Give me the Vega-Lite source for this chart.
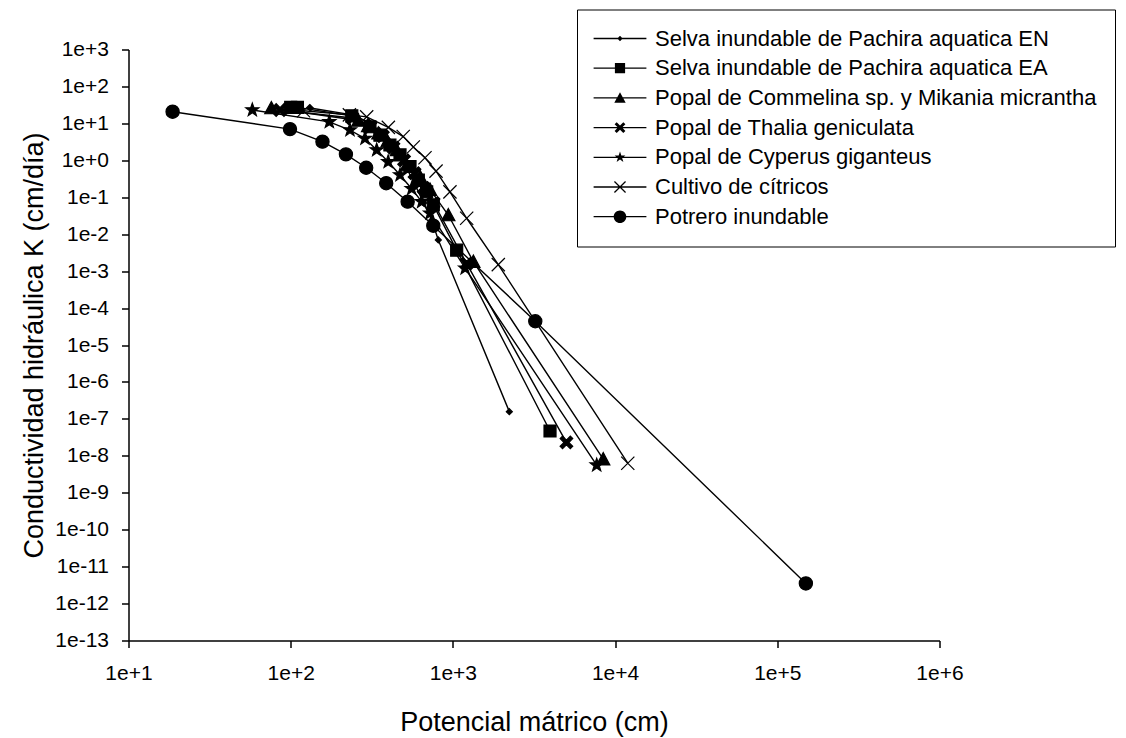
{
  "$schema": "https://vega.github.io/schema/vega-lite/v6.json",
  "width": 811,
  "height": 591,
  "autosize": {"type": "none"},
  "padding": {"left": 128.5, "top": 49.5, "right": 186.5, "bottom": 97.5},
  "background": "white",
  "config": {
    "view": {"stroke": null},
    "font": "Liberation Sans",
    "axis": {
      "grid": false,
      "domainColor": "black",
      "domainWidth": 1.5,
      "tickColor": "black",
      "tickWidth": 1.5,
      "tickSize": 7,
      "labelFont": "Liberation Sans",
      "labelFontSize": 21,
      "labelColor": "black",
      "titleFont": "Liberation Sans",
      "titleFontSize": 27,
      "titleFontWeight": "normal",
      "titleColor": "black",
      "labelOverlap": false,
      "labelFlush": false
    }
  },
  "data": {
    "values": [
      {"serie": "Selva inundable de Pachira aquatica EN", "h": 132, "K": 26},
      {"serie": "Selva inundable de Pachira aquatica EN", "h": 240, "K": 17},
      {"serie": "Selva inundable de Pachira aquatica EN", "h": 300, "K": 11},
      {"serie": "Selva inundable de Pachira aquatica EN", "h": 350, "K": 6.5},
      {"serie": "Selva inundable de Pachira aquatica EN", "h": 400, "K": 3.5},
      {"serie": "Selva inundable de Pachira aquatica EN", "h": 460, "K": 1.5},
      {"serie": "Selva inundable de Pachira aquatica EN", "h": 520, "K": 0.6},
      {"serie": "Selva inundable de Pachira aquatica EN", "h": 590, "K": 0.2},
      {"serie": "Selva inundable de Pachira aquatica EN", "h": 660, "K": 0.07},
      {"serie": "Selva inundable de Pachira aquatica EN", "h": 740, "K": 0.024},
      {"serie": "Selva inundable de Pachira aquatica EN", "h": 813, "K": 0.007},
      {"serie": "Selva inundable de Pachira aquatica EN", "h": 2228, "K": 1.57e-7},

      {"serie": "Selva inundable de Pachira aquatica EA", "h": 100, "K": 27},
      {"serie": "Selva inundable de Pachira aquatica EA", "h": 110, "K": 27},
      {"serie": "Selva inundable de Pachira aquatica EA", "h": 238, "K": 16},
      {"serie": "Selva inundable de Pachira aquatica EA", "h": 308, "K": 8.1},
      {"serie": "Selva inundable de Pachira aquatica EA", "h": 355, "K": 4.8},
      {"serie": "Selva inundable de Pachira aquatica EA", "h": 409, "K": 2.6},
      {"serie": "Selva inundable de Pachira aquatica EA", "h": 472, "K": 1.4},
      {"serie": "Selva inundable de Pachira aquatica EA", "h": 544, "K": 0.68},
      {"serie": "Selva inundable de Pachira aquatica EA", "h": 612, "K": 0.29},
      {"serie": "Selva inundable de Pachira aquatica EA", "h": 689, "K": 0.14},
      {"serie": "Selva inundable de Pachira aquatica EA", "h": 757, "K": 0.062},
      {"serie": "Selva inundable de Pachira aquatica EA", "h": 1055, "K": 0.0037},
      {"serie": "Selva inundable de Pachira aquatica EA", "h": 3970, "K": 4.7e-8},

      {"serie": "Popal de Commelina sp. y Mikania micrantha", "h": 76, "K": 26},
      {"serie": "Popal de Commelina sp. y Mikania micrantha", "h": 261, "K": 12},
      {"serie": "Popal de Commelina sp. y Mikania micrantha", "h": 300, "K": 8.5},
      {"serie": "Popal de Commelina sp. y Mikania micrantha", "h": 347, "K": 5.4},
      {"serie": "Popal de Commelina sp. y Mikania micrantha", "h": 395, "K": 3.3},
      {"serie": "Popal de Commelina sp. y Mikania micrantha", "h": 451, "K": 1.9},
      {"serie": "Popal de Commelina sp. y Mikania micrantha", "h": 519, "K": 0.74},
      {"serie": "Popal de Commelina sp. y Mikania micrantha", "h": 627, "K": 0.36},
      {"serie": "Popal de Commelina sp. y Mikania micrantha", "h": 723, "K": 0.16},
      {"serie": "Popal de Commelina sp. y Mikania micrantha", "h": 937, "K": 0.033},
      {"serie": "Popal de Commelina sp. y Mikania micrantha", "h": 1337, "K": 0.0018},
      {"serie": "Popal de Commelina sp. y Mikania micrantha", "h": 8450, "K": 8.1e-9},

      {"serie": "Popal de Thalia geniculata", "h": 86, "K": 23},
      {"serie": "Popal de Thalia geniculata", "h": 240, "K": 14},
      {"serie": "Popal de Thalia geniculata", "h": 310, "K": 8},
      {"serie": "Popal de Thalia geniculata", "h": 370, "K": 4.5},
      {"serie": "Popal de Thalia geniculata", "h": 430, "K": 2.2},
      {"serie": "Popal de Thalia geniculata", "h": 500, "K": 1.0},
      {"serie": "Popal de Thalia geniculata", "h": 580, "K": 0.45},
      {"serie": "Popal de Thalia geniculata", "h": 660, "K": 0.18},
      {"serie": "Popal de Thalia geniculata", "h": 760, "K": 0.07},
      {"serie": "Popal de Thalia geniculata", "h": 1216, "K": 0.0016},
      {"serie": "Popal de Thalia geniculata", "h": 5010, "K": 2.3e-8},

      {"serie": "Popal de Cyperus giganteus", "h": 58, "K": 23},
      {"serie": "Popal de Cyperus giganteus", "h": 173, "K": 11},
      {"serie": "Popal de Cyperus giganteus", "h": 232, "K": 6.6},
      {"serie": "Popal de Cyperus giganteus", "h": 287, "K": 3.9},
      {"serie": "Popal de Cyperus giganteus", "h": 339, "K": 1.9},
      {"serie": "Popal de Cyperus giganteus", "h": 399, "K": 0.91},
      {"serie": "Popal de Cyperus giganteus", "h": 472, "K": 0.4},
      {"serie": "Popal de Cyperus giganteus", "h": 557, "K": 0.17},
      {"serie": "Popal de Cyperus giganteus", "h": 642, "K": 0.076},
      {"serie": "Popal de Cyperus giganteus", "h": 723, "K": 0.037},
      {"serie": "Popal de Cyperus giganteus", "h": 1190, "K": 0.0012},
      {"serie": "Popal de Cyperus giganteus", "h": 7700, "K": 5.6e-9},

      {"serie": "Cultivo de cítricos", "h": 120, "K": 22},
      {"serie": "Cultivo de cítricos", "h": 230, "K": 17},
      {"serie": "Cultivo de cítricos", "h": 294, "K": 15},
      {"serie": "Cultivo de cítricos", "h": 400, "K": 7.8},
      {"serie": "Cultivo de cítricos", "h": 494, "K": 4.4},
      {"serie": "Cultivo de cítricos", "h": 570, "K": 2.3},
      {"serie": "Cultivo de cítricos", "h": 673, "K": 1.17},
      {"serie": "Cultivo de cítricos", "h": 787, "K": 0.51},
      {"serie": "Cultivo de cítricos", "h": 959, "K": 0.14},
      {"serie": "Cultivo de cítricos", "h": 1216, "K": 0.027},
      {"serie": "Cultivo de cítricos", "h": 1905, "K": 0.0015},
      {"serie": "Cultivo de cítricos", "h": 11970, "K": 6.3e-9},

      {"serie": "Potrero inundable", "h": 18.7, "K": 20.7},
      {"serie": "Potrero inundable", "h": 99, "K": 7.0},
      {"serie": "Potrero inundable", "h": 157, "K": 3.2},
      {"serie": "Potrero inundable", "h": 219, "K": 1.45},
      {"serie": "Potrero inundable", "h": 292, "K": 0.63},
      {"serie": "Potrero inundable", "h": 388, "K": 0.24},
      {"serie": "Potrero inundable", "h": 526, "K": 0.076},
      {"serie": "Potrero inundable", "h": 757, "K": 0.017},
      {"serie": "Potrero inundable", "h": 3220, "K": 4.4e-5},
      {"serie": "Potrero inundable", "h": 150000, "K": 3.5e-12}
    ]
  },
  "encoding": {
    "x": {
      "field": "h",
      "type": "quantitative",
      "scale": {"type": "log", "domain": [10, 1000000], "nice": false},
      "axis": {
        "title": "Potencial mátrico (cm)",
        "values": [10, 100, 1000, 10000, 100000, 1000000],
        "labelExpr": "'1e' + (datum.value >= 1 ? '+' : '') + round(log(datum.value) / LN10)",
        "labelPadding": 15,
        "titlePadding": 26
      }
    },
    "y": {
      "field": "K",
      "type": "quantitative",
      "scale": {"type": "log", "domain": [1e-13, 1000], "nice": false},
      "axis": {
        "title": "Conductividad hidráulica K (cm/día)",
        "values": [1000, 100, 10, 1, 0.1, 0.01, 0.001, 0.0001, 1e-5, 1e-6, 1e-7, 1e-8, 1e-9, 1e-10, 1e-11, 1e-12, 1e-13],
        "labelExpr": "'1e' + (datum.value >= 1 ? '+' : '') + round(log(datum.value) / LN10)",
        "labelPadding": 13,
        "titlePadding": 6
      }
    }
  },
  "layer": [
    {
      "mark": {"type": "line", "color": "black", "strokeWidth": 1.4},
      "encoding": {
        "detail": {"field": "serie"},
        "order": {"field": "h", "type": "quantitative"}
      }
    },
    {
      "mark": {"type": "point", "filled": true, "fill": "black", "stroke": "black", "strokeWidth": 1.2, "size": 144, "opacity": 1},
      "encoding": {
        "shape": {
          "field": "serie",
          "scale": {
            "domain": [
              "Selva inundable de Pachira aquatica EN",
              "Selva inundable de Pachira aquatica EA",
              "Popal de Commelina sp. y Mikania micrantha",
              "Popal de Thalia geniculata",
              "Popal de Cyperus giganteus",
              "Cultivo de cítricos",
              "Potrero inundable"
            ],
            "range": [
              "M0,-0.5L0.5,0L0,0.5L-0.5,0Z",
              "M-1,-1H1V1H-1Z",
              "M0,-1.1L1.1,0.95H-1.1Z",
              "M-1.05,-0.65L-0.65,-1.05L0,-0.4L0.65,-1.05L1.05,-0.65L0.4,0L1.05,0.65L0.65,1.05L0,0.4L-0.65,1.05L-1.05,0.65L-0.4,0Z",
              "M0,-1.15L0.27,-0.37L1.09,-0.36L0.44,0.14L0.68,0.93L0,0.47L-0.68,0.93L-0.44,0.14L-1.09,-0.36L-0.27,-0.37Z",
              "M-1.1,-1.1L1.1,1.1M-1.1,1.1L1.1,-1.1",
              "M-1.1,0A1.1,1.1,0,1,0,1.1,0A1.1,1.1,0,1,0,-1.1,0Z"
            ]
          },
          "legend": null
        }
      }
    },
    {
      "transform": [{"filter": "false"}],
      "mark": {"type": "point", "filled": true, "fill": "black", "size": 144, "opacity": 1},
      "encoding": {
        "shape": {
          "field": "serie",
          "scale": {
            "domain": [
              "Selva inundable de Pachira aquatica EN",
              "Selva inundable de Pachira aquatica EA",
              "Popal de Commelina sp. y Mikania micrantha",
              "Popal de Thalia geniculata",
              "Popal de Cyperus giganteus",
              "Cultivo de cítricos",
              "Potrero inundable"
            ],
            "range": [
              "M-4.4,-0.11H4.4V0.11H-4.4ZM0,-0.45L0.45,0L0,0.45L-0.45,0Z",
              "M-4.4,-0.11H4.4V0.11H-4.4ZM-0.85,-0.85H0.85V0.85H-0.85Z",
              "M-4.4,-0.11H4.4V0.11H-4.4ZM0,-0.95L0.95,0.8H-0.95Z",
              "M-4.4,-0.11H4.4V0.11H-4.4ZM-0.9,-0.55L-0.55,-0.9L0,-0.35L0.55,-0.9L0.9,-0.55L0.35,0L0.9,0.55L0.55,0.9L0,0.35L-0.55,0.9L-0.9,0.55L-0.35,0Z",
              "M-4.4,-0.11H4.4V0.11H-4.4ZM0,-0.95L0.22,-0.31L0.9,-0.29L0.36,0.12L0.56,0.77L0,0.38L-0.56,0.77L-0.36,0.12L-0.9,-0.29L-0.22,-0.31Z",
              "M-4.4,-0.11H4.4V0.11H-4.4ZM-1,-0.85L-0.85,-1L1,0.85L0.85,1ZM-0.85,1L-1,0.85L0.85,-1L1,-0.85Z",
              "M-4.4,-0.11H4.4V0.11H-4.4ZM-1.05,0A1.05,1.05,0,1,1,1.05,0A1.05,1.05,0,1,1,-1.05,0Z"
            ]
          },
          "legend": {
            "orient": "none",
            "legendX": 448.5,
            "legendY": -40,
            "title": null,
            "strokeColor": "black",
            "fillColor": "white",
            "padding": 18,
            "labelFont": "Liberation Sans",
            "labelFontSize": 22,
            "labelColor": "black",
            "labelOffset": 24,
            "labelLimit": 700,
            "symbolOffset": 14,
            "rowPadding": 7.7,
            "symbolSize": 144,
            "symbolFillColor": "black",
            "symbolOpacity": 1
          }
        }
      }
    }
  ],
  "resolve": {"scale": {"shape": "independent"}, "legend": {"shape": "independent"}}
}
